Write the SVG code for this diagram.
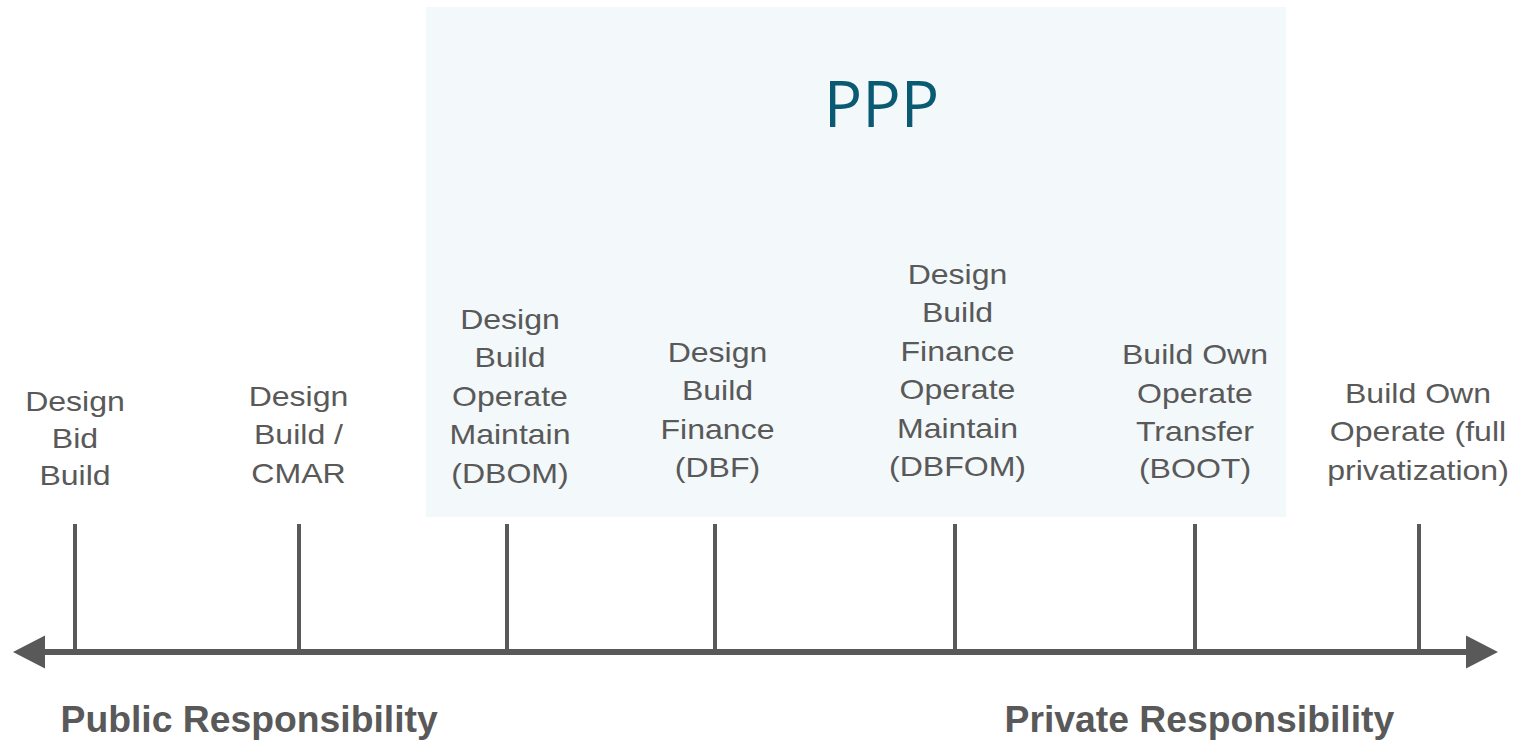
<svg xmlns="http://www.w3.org/2000/svg" width="1513" height="740" viewBox="0 0 1513 740">
  <style>
    .lbl { font-family: "Liberation Sans", Arial, sans-serif; font-size: 28px; fill: #595959; text-anchor: middle; }
    .side { font-family: "Liberation Sans", Arial, sans-serif; font-size: 37.3px; font-weight: bold; fill: #595959; }
    .ppp { font-family: "Open Sans", "Noto Sans", sans-serif; font-size: 64px; fill: #0b5a73; text-anchor: middle; }
    .tick { stroke: #595959; stroke-width: 4; }
    .axis { stroke: #595959; stroke-width: 6; fill: none; }
  </style>
  <defs>
    <marker id="arrow" markerUnits="userSpaceOnUse" viewBox="0 -17 33 34" refX="1" refY="0" markerWidth="33" markerHeight="34" orient="auto-start-reverse">
      <path d="M0,-16.5 L32,0 L0,16.5 Z" fill="#595959"/>
    </marker>
  </defs>
  <rect width="1513" height="740" fill="#ffffff"/>

  <g id="ppp-zone">
    <rect x="426" y="7" width="860" height="510" fill="#f3f8fb"/>
    <text class="ppp" x="881.5" y="127">PPP</text>
  </g>

  <g id="connectors">
    <line class="axis" x1="44" y1="652" x2="1467" y2="652" marker-start="url(#arrow)" marker-end="url(#arrow)"/>
  </g>

  <g id="n-dbb">
    <line class="tick" x1="75" y1="524" x2="75" y2="652"/>
    <g transform="translate(75,0) scale(1.145,1)">
      <text class="lbl"><tspan x="0" y="411.5">Design</tspan><tspan x="0" y="448">Bid</tspan><tspan x="0" y="485">Build</tspan></text>
    </g>
  </g>

  <g id="n-cmar">
    <line class="tick" x1="299" y1="524" x2="299" y2="652"/>
    <g transform="translate(298.5,0) scale(1.145,1)">
      <text class="lbl"><tspan x="0" y="406">Design</tspan><tspan x="0" y="444.5">Build /</tspan><tspan x="0" y="483">CMAR</tspan></text>
    </g>
  </g>

  <g id="n-dbom">
    <line class="tick" x1="507" y1="524" x2="507" y2="652"/>
    <g transform="translate(510,0) scale(1.145,1)">
      <text class="lbl"><tspan x="0" y="329">Design</tspan><tspan x="0" y="367.5">Build</tspan><tspan x="0" y="406">Operate</tspan><tspan x="0" y="444.5">Maintain</tspan><tspan x="0" y="483">(DBOM)</tspan></text>
    </g>
  </g>

  <g id="n-dbf">
    <line class="tick" x1="715" y1="524" x2="715" y2="652"/>
    <g transform="translate(717.5,0) scale(1.145,1)">
      <text class="lbl"><tspan x="0" y="362">Design</tspan><tspan x="0" y="400.5">Build</tspan><tspan x="0" y="439">Finance</tspan><tspan x="0" y="477.5">(DBF)</tspan></text>
    </g>
  </g>

  <g id="n-dbfom">
    <line class="tick" x1="955" y1="524" x2="955" y2="652"/>
    <g transform="translate(957.5,0) scale(1.145,1)">
      <text class="lbl"><tspan x="0" y="284">Design</tspan><tspan x="0" y="322.5">Build</tspan><tspan x="0" y="361">Finance</tspan><tspan x="0" y="399.5">Operate</tspan><tspan x="0" y="438">Maintain</tspan><tspan x="0" y="476.5">(DBFOM)</tspan></text>
    </g>
  </g>

  <g id="n-boot">
    <line class="tick" x1="1195" y1="524" x2="1195" y2="652"/>
    <g transform="translate(1195,0) scale(1.145,1)">
      <text class="lbl"><tspan x="0" y="364.5">Build Own</tspan><tspan x="0" y="403">Operate</tspan><tspan x="0" y="441">Transfer</tspan><tspan x="0" y="478">(BOOT)</tspan></text>
    </g>
  </g>

  <g id="n-boo">
    <line class="tick" x1="1419" y1="524" x2="1419" y2="652"/>
    <g transform="translate(1418,0) scale(1.145,1)">
      <text class="lbl"><tspan x="0" y="403">Build Own</tspan><tspan x="0" y="441.5">Operate (full</tspan><tspan x="0" y="480">privatization)</tspan></text>
    </g>
  </g>

  <g id="labels-ends">
    <text class="side" x="60.5" y="732">Public Responsibility</text>
    <text class="side" x="1004.5" y="732">Private Responsibility</text>
  </g>
</svg>
